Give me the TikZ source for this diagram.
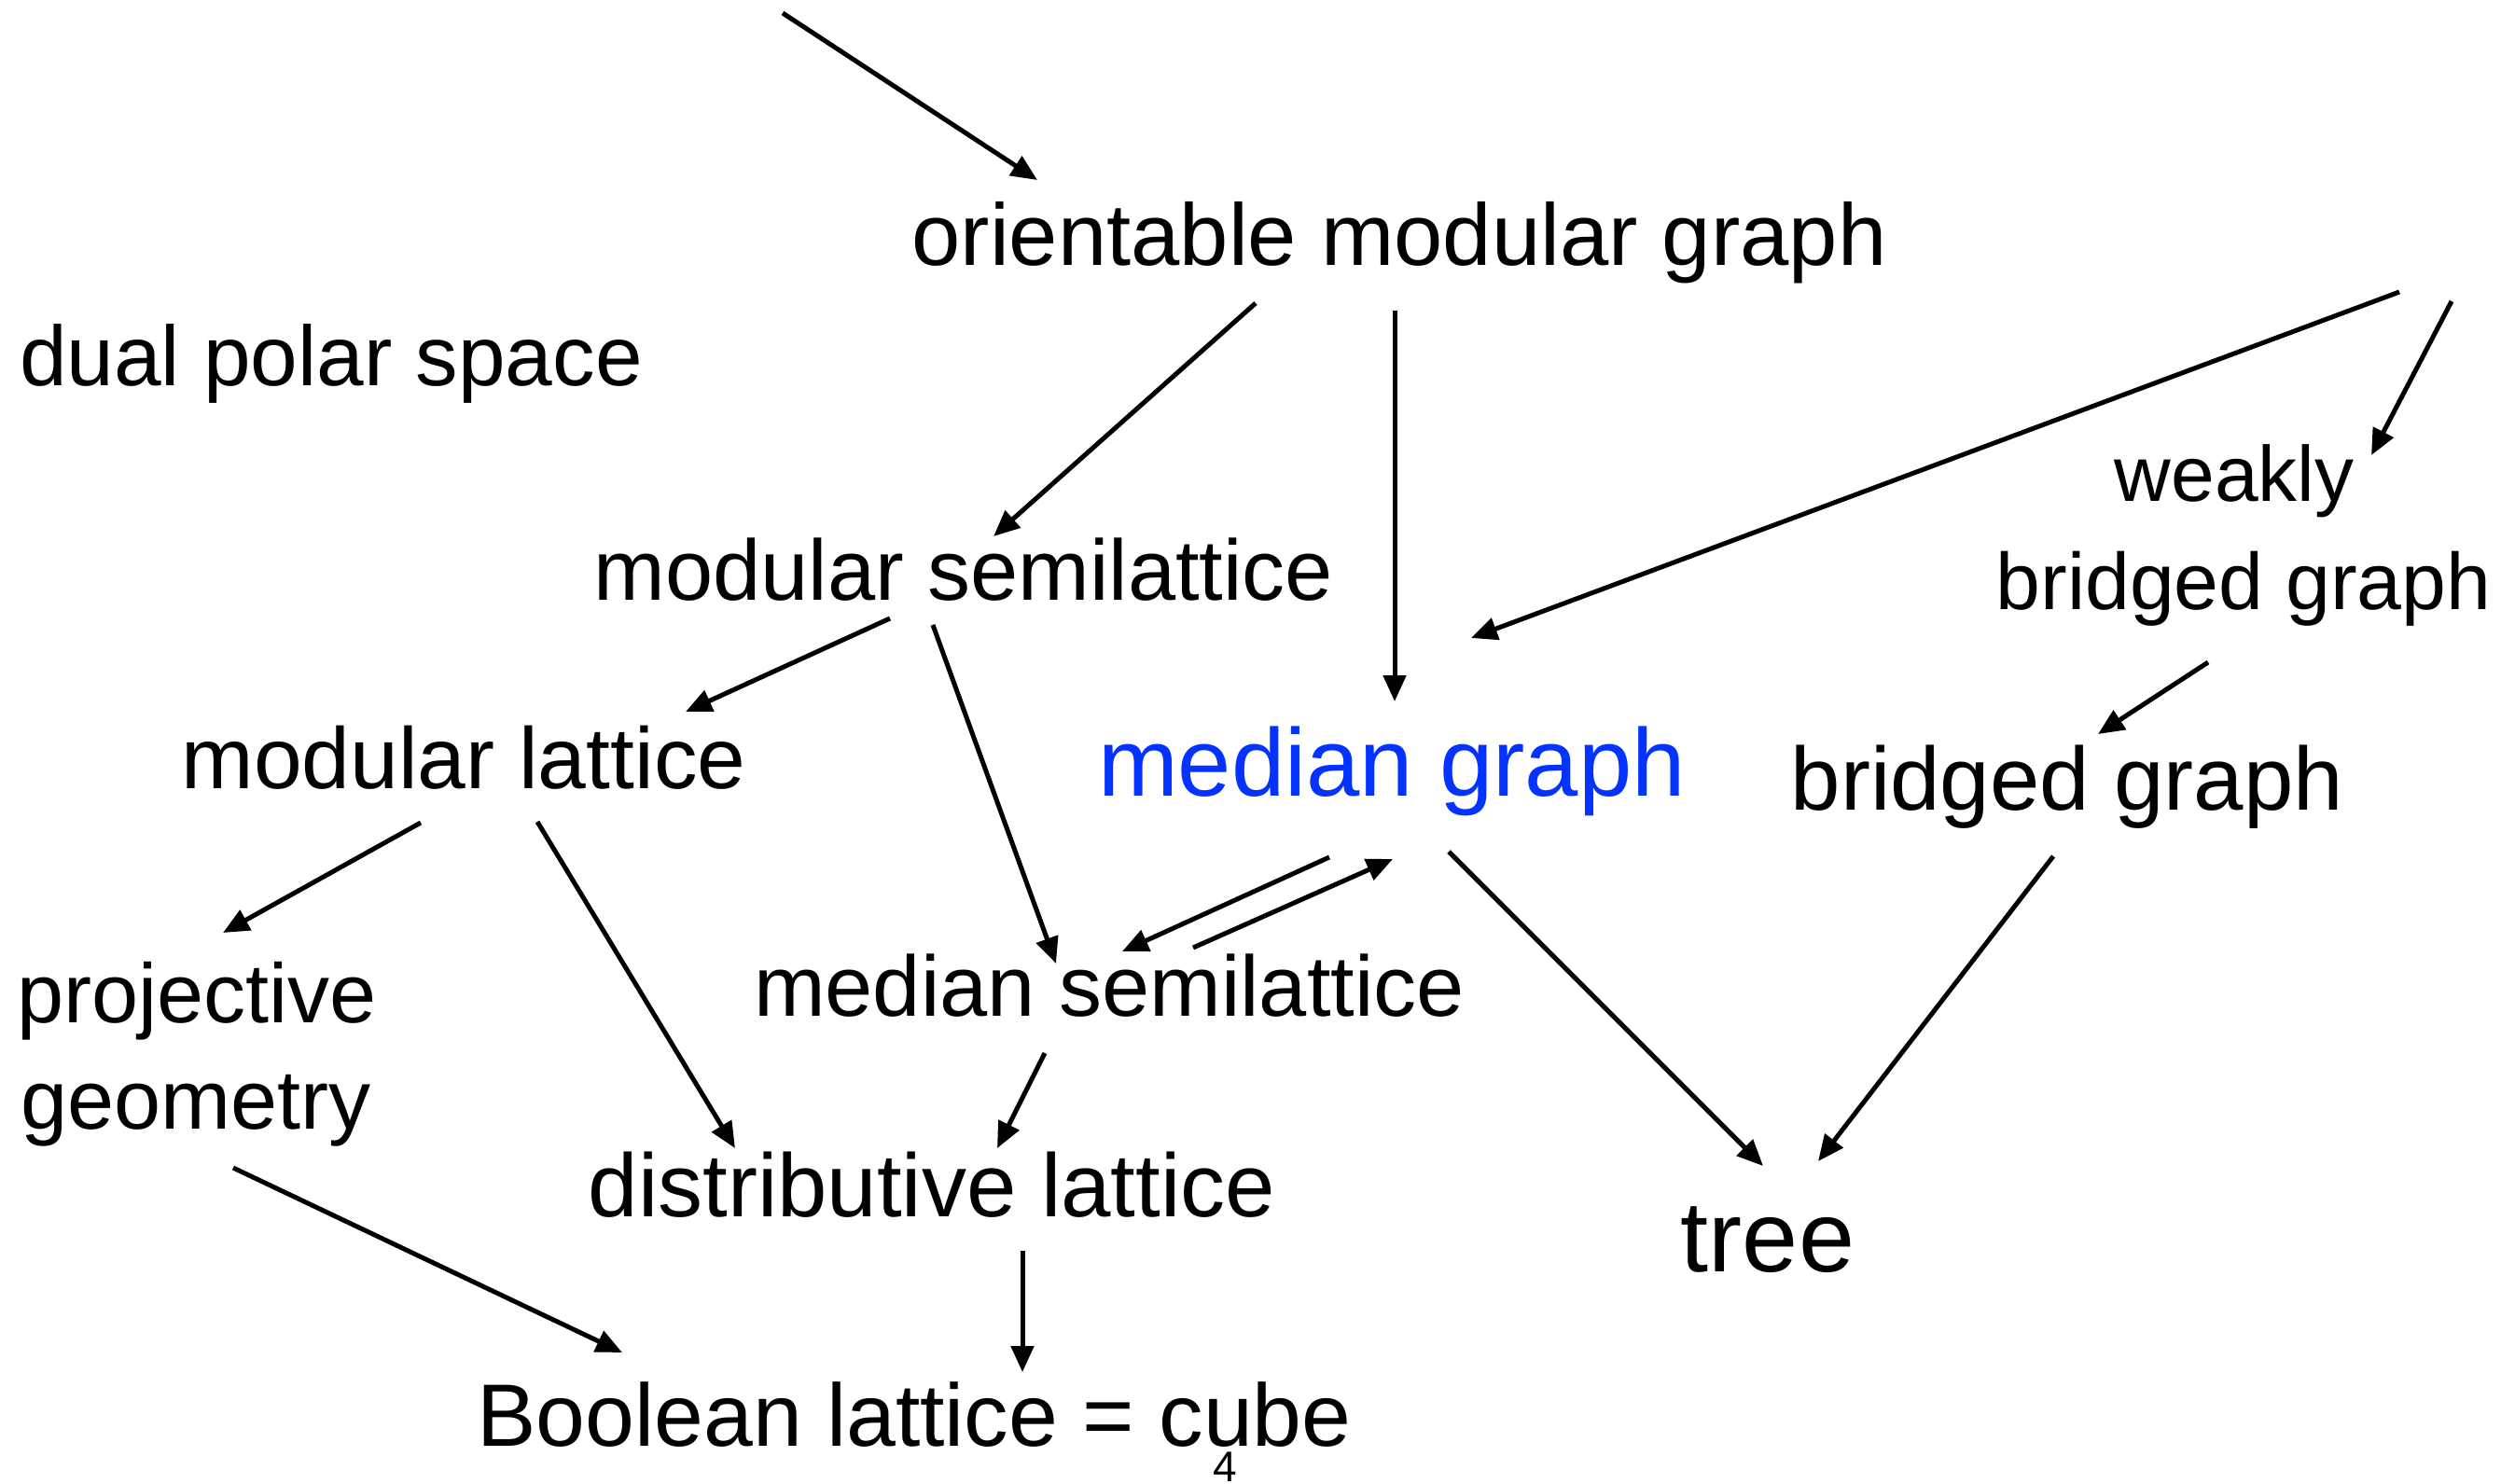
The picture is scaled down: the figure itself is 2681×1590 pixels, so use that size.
\documentclass[tikz,border=0pt]{standalone}
\usepackage{fontspec}
\setmainfont{Liberation Sans}
\usetikzlibrary{arrows.meta}
\definecolor{medblue}{RGB}{4,51,255}
\begin{document}
\begin{tikzpicture}[x=1pt,y=-1pt,
  lbl/.style={anchor=base,inner sep=0pt,font=\fontsize{#1}{#1}\selectfont},
  arr/.style={-{Triangle[length=28pt,width=24pt]},line width=5pt}]
\useasboundingbox[fill=white] (0,0) rectangle (2681,1590);
\node[lbl=94] (omg) at (1500,284) {orientable modular graph};
\node[lbl=91] (dps) at (355,413) {dual polar space};
\node[lbl=92] (msl) at (1033,643) {modular semilattice};
\node[lbl=84] (wk) at (2395,537) {weakly};
\node[lbl=86] (bg1) at (2405,653) {bridged graph};
\node[lbl=93] (ml) at (497,845) {modular lattice};
\node[lbl=103,text=medblue] (mg) at (1492,853) {median graph};
\node[lbl=96] (bg2) at (2216,868) {bridged graph};
\node[lbl=90] (pr) at (211,1096) {projective};
\node[lbl=90] (ge) at (210,1210) {geometry};
\node[lbl=92] (mss) at (1189,1089) {median semilattice};
\node[lbl=96] (dl) at (999,1304) {distributive lattice};
\node[lbl=108] (tr) at (1895,1363) {tree};
\node[lbl=95] (bl) at (980,1550) {Boolean lattice = cube};
\node[lbl=46] (pg) at (1313,1588) {4};
\coordinate (f1) at (839,14);
\coordinate (f4) at (2572,313);
\coordinate (f5) at (2628,323);
\draw[arr] (f1) -- ([shift={(-388,-91)}]omg.base);
\draw[arr] ([shift={(-154,41)}]omg.base) -- ([shift={(32,-68)}]msl.base);
\draw[arr] ([shift={(-5,49)}]omg.base) -- ([shift={(3,-101)}]mg.base);
\draw[arr] (f4) -- ([shift={(85,-169)}]mg.base);
\draw[arr] (f5) -- ([shift={(147,-49)}]wk.base);
\draw[arr] ([shift={(-38,57)}]bg1.base) -- ([shift={(33,-81)}]bg2.base);
\draw[arr] ([shift={(-79,20)}]msl.base) -- ([shift={(238,-82)}]ml.base);
\draw[arr] ([shift={(-33,27)}]msl.base) -- ([shift={(-57,-56)}]mss.base);
\draw[arr] ([shift={(-46,37)}]ml.base) -- ([shift={(28,-96)}]pr.base);
\draw[arr] ([shift={(79,36)}]ml.base) -- ([shift={(-211,-73)}]dl.base);
\draw[arr] ([shift={(-67,66)}]mg.base) -- ([shift={(14,-69)}]mss.base);
\draw[arr] ([shift={(90,-73)}]mss.base) -- ([shift={(1,68)}]mg.base);
\draw[arr] ([shift={(61,60)}]mg.base) -- ([shift={(-5,-113)}]tr.base);
\draw[arr] ([shift={(-15,50)}]bg2.base) -- ([shift={(54,-118)}]tr.base);
\draw[arr] ([shift={(-69,40)}]mss.base) -- ([shift={(70,-73)}]dl.base);
\draw[arr] ([shift={(40,42)}]ge.base) -- ([shift={(-313,-100)}]bl.base);
\draw[arr] ([shift={(97,37)}]dl.base) -- ([shift={(116,-79)}]bl.base);
\end{tikzpicture}
\end{document}
